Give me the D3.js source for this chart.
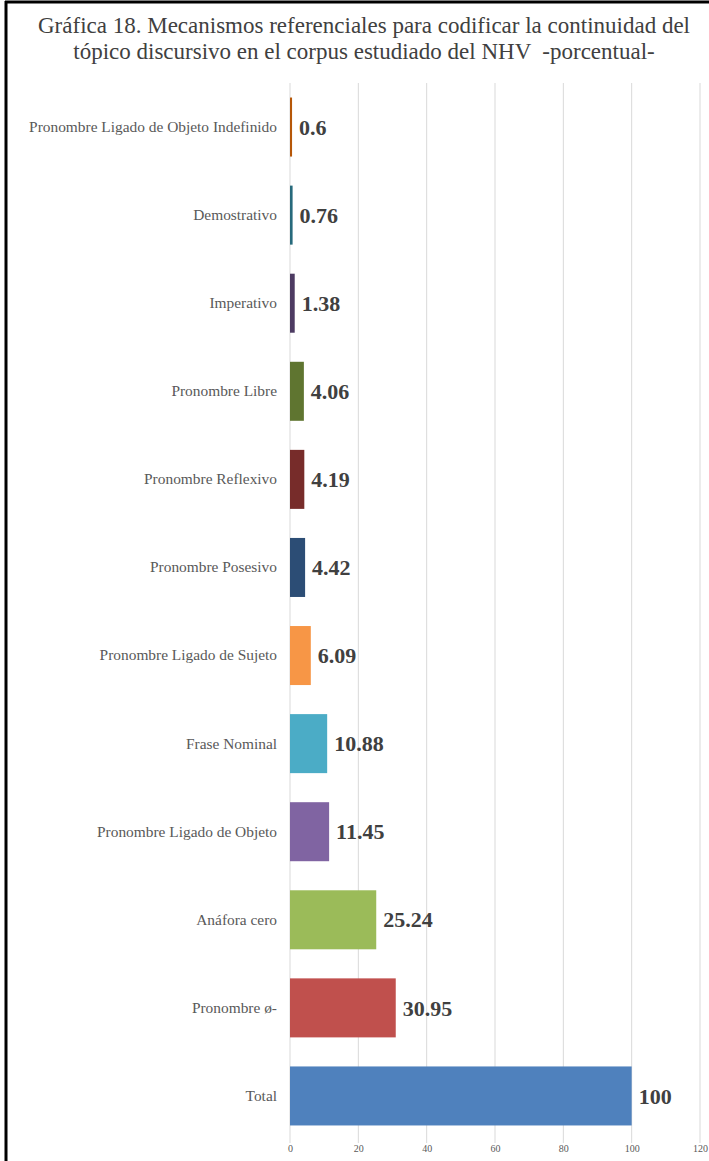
<!DOCTYPE html>
<html>
<head>
<meta charset="utf-8">
<script src="https://cdn.jsdelivr.net/npm/d3@7"></script>
<style>
  html, body { margin: 0; padding: 0; background: #fff; }
  svg { display: block; }
</style>
</head>
<body>
<div id="chart"></div>
<script>
// Mechanisms and their percentages, top to bottom
const categories = [
  "Pronombre Ligado de Objeto Indefinido",
  "Demostrativo",
  "Imperativo",
  "Pronombre Libre",
  "Pronombre Reflexivo",
  "Pronombre Posesivo",
  "Pronombre Ligado de Sujeto",
  "Frase Nominal",
  "Pronombre Ligado de Objeto",
  "Anáfora cero",
  "Pronombre ø-",
  "Total"
];
const values = [0.6, 0.76, 1.38, 4.06, 4.19, 4.42, 6.09, 10.88, 11.45, 25.24, 30.95, 100];
const colors = [
  "#B65708", "#276A7C", "#4D3B62", "#5F7530", "#772C2A", "#2C4D75",
  "#F79646", "#4BACC6", "#8064A2", "#9BBB59", "#C0504D", "#4F81BD"
];
const xTicks = [0, 20, 40, 60, 80, 100, 120];
const titleLines = [
  "Gráfica 18. Mecanismos referenciales para codificar la continuidad del",
  "tópico discursivo en el corpus estudiado del NHV  -porcentual-"
];

const W = 709, H = 1161;
const serif = "Liberation Serif, Times New Roman, serif";
const svg = d3.select("#chart").append("svg")
  .attr("width", W).attr("height", H);

// frame
svg.append("line").attr("x1", 6).attr("x2", 6).attr("y1", 1).attr("y2", H)
  .attr("stroke", "#000").attr("stroke-width", 3);
svg.append("line").attr("x1", 5).attr("x2", W).attr("y1", 2).attr("y2", 2)
  .attr("stroke", "#000").attr("stroke-width", 3);

// title
svg.append("g").selectAll("text").data(titleLines).join("text")
  .attr("x", 364).attr("y", (d, i) => 33 + i * 26)
  .attr("text-anchor", "middle")
  .style("white-space", "pre")
  .attr("font-family", serif)
  .attr("font-size", 23).attr("fill", "#404040")
  .text(d => d);

const x = d3.scaleLinear().domain([0, 120]).range([290, 700]);
const y = d3.scaleBand().domain(categories).range([83, 1140])
  .paddingInner(0.33).paddingOuter(0.165);

// vertical gridlines
svg.append("g").selectAll("line").data(xTicks).join("line")
  .attr("x1", d => x(d)).attr("x2", d => x(d))
  .attr("y1", 83).attr("y2", 1143)
  .attr("stroke", "#d9d9d9").attr("stroke-width", 1);

// x axis tick labels
const xAxis = d3.axisBottom(x).tickValues(xTicks).tickSize(0).tickPadding(0);
const gx = svg.append("g").attr("transform", "translate(0,1145)").call(xAxis);
gx.select(".domain").remove();
gx.selectAll("text")
  .attr("font-family", serif)
  .attr("font-size", 10).attr("fill", "#595959");

// category labels
const yAxis = d3.axisLeft(y).tickSize(0).tickPadding(0);
const gy = svg.append("g").attr("transform", "translate(277,0)").call(yAxis);
gy.select(".domain").remove();
gy.selectAll("text")
  .attr("font-family", serif)
  .attr("font-size", 15.4).attr("fill", "#595959");

const data = categories.map((c, i) => ({ c, v: values[i], color: colors[i] }));

// bars
svg.append("g").selectAll("rect").data(data).join("rect")
  .attr("x", x(0)).attr("y", d => y(d.c))
  .attr("width", d => Math.max(1.5, x(d.v) - x(0)))
  .attr("height", y.bandwidth())
  .attr("fill", d => d.color);

// value labels
svg.append("g").selectAll("text").data(data).join("text")
  .attr("x", d => Math.max(x(d.v), x(0) + 1.5) + 7)
  .attr("y", d => y(d.c) + y.bandwidth() / 2)
  .attr("dy", "0.35em")
  .attr("font-family", serif)
  .attr("font-weight", "bold").attr("font-size", 22).attr("fill", "#404040")
  .text(d => d.v);
</script>
</body>
</html>
